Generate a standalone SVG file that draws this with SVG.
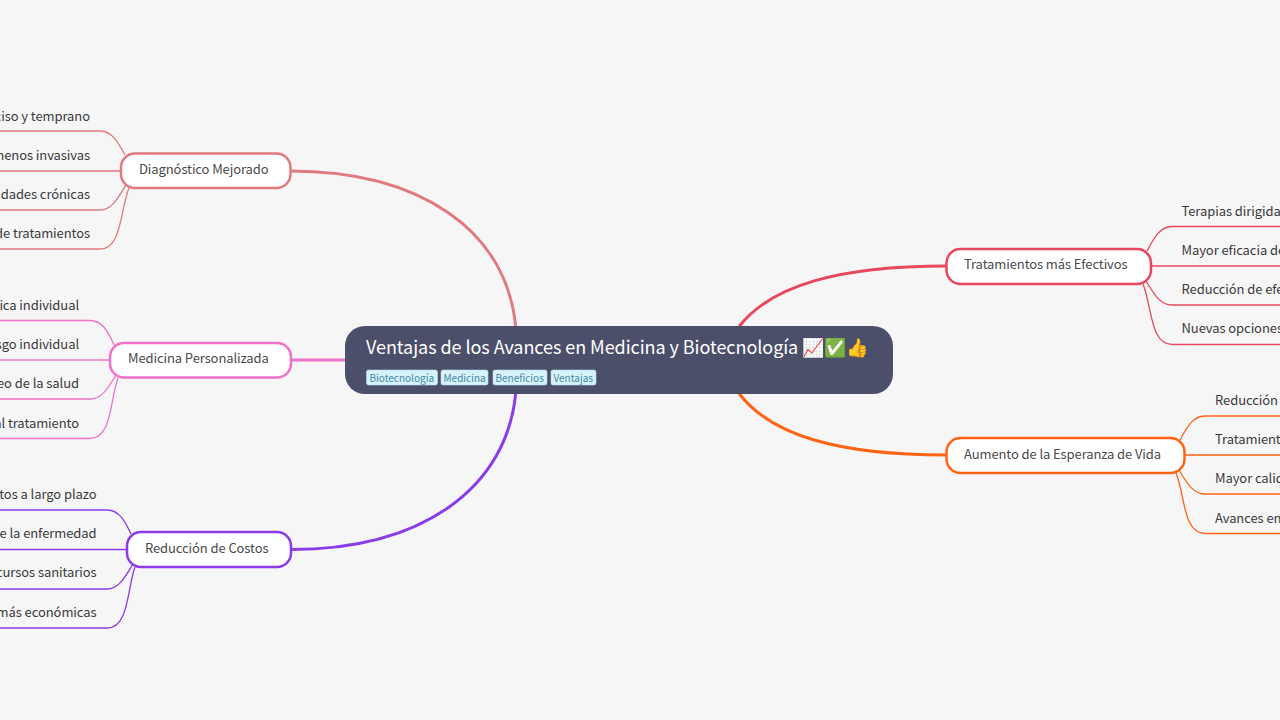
<svg xmlns="http://www.w3.org/2000/svg" width="1280" height="720" viewBox="0 0 1280 720">
<style>
text{font-family:"Noto Sans CJK JP","Noto Sans",sans-serif;font-size:13px;fill:#3a3a3a;letter-spacing:-.08px}
.n{fill:#fff;stroke-width:2.5}
text.l{fill:#4a4a4a;letter-spacing:-.1px}
.m{fill:#4c4f69;}
text.t{fill:#fff;font-size:18px;letter-spacing:-.06px}
.b{fill:#d8f2fb;stroke:#b5dfee;stroke-width:.6}
text.g{font-size:10px;fill:#3f8aa5;letter-spacing:0}
.c{fill:none;stroke-width:1.3}
.r{fill:none;stroke-width:3}
.e{text-anchor:end}
</style>
<rect width="1280" height="720" fill="#f6f6f6"/>
<g id="connectors">
<path class="r" stroke="#e07a7e" d="M290 171C420 171 508 230 516 330"/>
<path class="r" stroke="#ee72cc" d="M291 360H346"/>
<path class="r" stroke="#8b3be8" d="M291 549.500C420 549.500 508 490 516 390"/>
<path class="r" stroke="#e8485e" d="M946 266C840 266 770 285 738 328"/>
<path class="r" stroke="#ff6314" d="M946 455C840 455 770 436 738 392"/>
<g stroke="#e07a7e">
<path class="c" d="M0 131H100C112 131 118 142 125 155"/>
<path class="c" d="M0 171H121"/>
<path class="c" d="M0 210H100C112 210 118 198 126 185"/>
<path class="c" d="M0 249H100C122 249 120 210 129 188"/>
</g>
<g stroke="#ee72cc">
<path class="c" d="M0 320.500H90C102 320.500 108 331 114 345"/>
<path class="c" d="M0 360H110"/>
<path class="c" d="M0 399H90C102 399 108 388 116 375"/>
<path class="c" d="M0 438.500H90C112 438.500 110 400 118 378"/>
</g>
<g stroke="#8b3be8">
<path class="c" d="M0 510H107C119 510 125 521 131 534"/>
<path class="c" d="M0 549.500H127"/>
<path class="c" d="M0 589H107C119 589 125 577 133 564"/>
<path class="c" d="M0 628H107C129 628 127 589 135 567"/>
</g>
<g stroke="#e8485e">
<path class="c" d="M1280 226.500H1172C1160 226.500 1154 238 1147 251"/>
<path class="c" d="M1280 266H1151"/>
<path class="c" d="M1280 305H1172C1160 305 1154 294 1146 281"/>
<path class="c" d="M1280 344.500H1172C1150 344.500 1152 306 1143 284"/>
</g>
<g stroke="#ff6314">
<path class="c" d="M1280 416H1205C1193 416 1187 427 1180 440"/>
<path class="c" d="M1280 455H1185"/>
<path class="c" d="M1280 494H1205C1193 494 1187 483 1179 470"/>
<path class="c" d="M1280 533.500H1205C1183 533.500 1185 495 1176 473"/>
</g>
</g>
<g id="root">
<rect class="m" x="345" y="326" width="548" height="68" rx="20"/>
<text class="t" x="366" y="354">Ventajas de los Avances en Medicina y Biotecnología 📈✅👍</text>
<rect class="b" x="366.500" y="370" width="71" height="15" rx="2"/><text class="g" x="369.500" y="382">Biotecnología</text>
<rect class="b" x="441" y="370" width="47" height="15" rx="2"/><text class="g" x="443.500" y="382">Medicina</text>
<rect class="b" x="493" y="370" width="54" height="15" rx="2"/><text class="g" x="495.500" y="382">Beneficios</text>
<rect class="b" x="551" y="370" width="45" height="15" rx="2"/><text class="g" x="553.500" y="382">Ventajas</text>
</g>
<g id="n1"><rect class="n" stroke="#e07a7e" x="121" y="153.500" width="169.500" height="34.500" rx="14"/><text class="l" x="139" y="174">Diagnóstico Mejorado</text></g>
<g id="n2"><rect class="n" stroke="#ee72cc" x="110" y="343" width="181" height="34.500" rx="14"/><text class="l" x="128" y="363">Medicina Personalizada</text></g>
<g id="n3"><rect class="n" stroke="#8b3be8" x="127" y="532" width="164" height="35" rx="14"/><text class="l" x="145" y="553">Reducción de Costos</text></g>
<g id="n4"><rect class="n" stroke="#e8485e" x="946.500" y="249" width="204.500" height="35" rx="14"/><text class="l" x="964" y="269">Tratamientos más Efectivos</text></g>
<g id="n5"><rect class="n" stroke="#ff6314" x="946.500" y="438" width="238" height="35" rx="14"/><text class="l" x="964" y="459">Aumento de la Esperanza de Vida</text></g>
<g id="leaves-n1">
<text class="e" x="90" y="121">ciso y temprano</text>
<text class="e" x="90" y="160">menos invasivas</text>
<text class="e" x="90" y="199">dades crónicas</text>
<text class="e" x="90" y="238">de tratamientos</text>
</g>
<g id="leaves-n2">
<text class="e" x="79" y="310">ica individual</text>
<text class="e" x="79" y="349">sgo individual</text>
<text class="e" x="79" y="388">eo de la salud</text>
<text class="e" x="79" y="428">al tratamiento</text>
</g>
<g id="leaves-n3">
<text class="e" x="96.500" y="499">tos a largo plazo</text>
<text class="e" x="96.500" y="538">e la enfermedad</text>
<text class="e" x="96.500" y="577">cursos sanitarios</text>
<text class="e" x="96.500" y="617">más económicas</text>
</g>
<g id="leaves-n4">
<text x="1181.500" y="216">Terapias dirigidas</text>
<text x="1181.500" y="255">Mayor eficacia de</text>
<text x="1181.500" y="294">Reducción de efe</text>
<text x="1181.500" y="333">Nuevas opciones</text>
</g>
<g id="leaves-n5">
<text x="1215" y="405">Reducción</text>
<text x="1215" y="444">Tratamient</text>
<text x="1215" y="483">Mayor calid</text>
<text x="1215" y="523">Avances en</text>
</g>
</svg>
